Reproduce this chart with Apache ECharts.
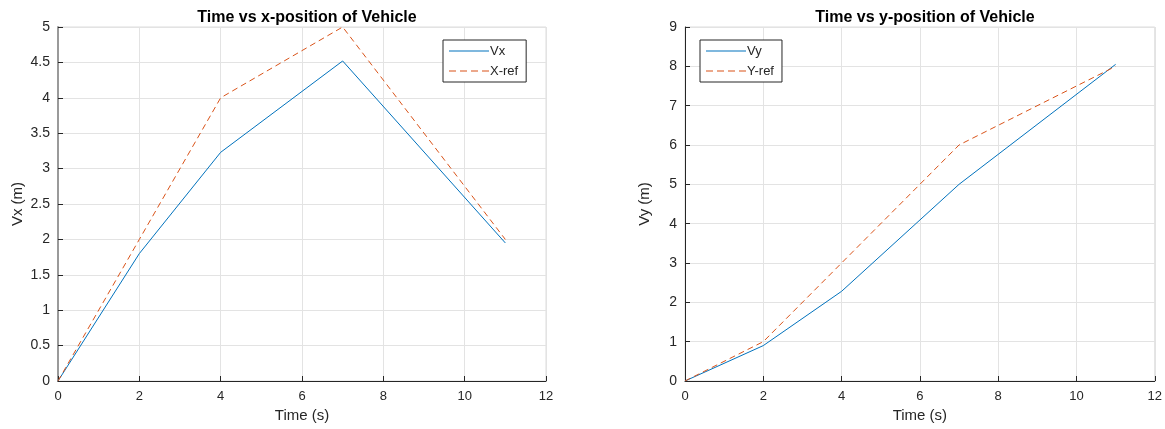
<!DOCTYPE html>
<html>
<head>
<meta charset="utf-8">
<script src="https://cdn.jsdelivr.net/npm/echarts@6/dist/echarts.min.js"></script>
<style>
html,body{margin:0;padding:0;background:#fff;}
#c{width:1165px;height:429px;}
</style>
</head>
<body>
<div id="c"></div>
<script>
const time = [0, 2, 4, 7, 11];
const vx = [0, 1.8, 3.23, 4.52, 1.95];
const xRef = [0, 2, 4, 5, 2];
const vy = [0, 0.9, 2.28, 5.0, 8.05];
const yRef = [0, 1, 3, 6, 8];

const pair = (t, v) => t.map((x, i) => [x, v[i]]);
const FONT = '"Liberation Sans", Arial, sans-serif';
const BLUE = '#0072BD', ORANGE = '#D95319';
const SOLID_ICON = 'path://M0,0H40V1H0Z';
const DASH_ICON = 'path://M0,0H7V1H0Z M11,0H18V1H11Z M22,0H29V1H22Z M33,0H40V1H33Z';

function xAxisCfg(gi) {
  return {
    gridIndex: gi, type: 'value', min: 0, max: 12, interval: 2,
    name: 'Time (s)', nameLocation: 'middle', nameGap: 27,
    nameTextStyle: {color: '#262626', fontSize: 15, fontFamily: FONT},
    axisLine: {show: true, onZero: false, lineStyle: {color: '#262626', width: 1}},
    axisTick: {show: true, inside: true, length: 5, lineStyle: {color: '#262626'}},
    axisLabel: {color: '#262626', fontSize: 13, fontFamily: FONT, margin: 9},
    splitLine: {show: true, lineStyle: {color: '#e3e3e3', width: 1}}
  };
}
function yAxisCfg(gi, max, interval, name, lineColor, lineWidth) {
  return {
    gridIndex: gi, type: 'value', min: 0, max: max, interval: interval,
    name: name, nameLocation: 'middle', nameGap: 33, nameRotate: 90,
    nameTextStyle: {color: '#262626', fontSize: 15, fontFamily: FONT},
    axisLine: {show: true, onZero: false, lineStyle: {color: lineColor, width: lineWidth}},
    axisTick: {show: true, inside: true, length: 5, lineStyle: {color: '#262626'}},
    axisLabel: {color: '#262626', fontSize: 14, fontFamily: FONT, margin: 8},
    splitLine: {show: true, lineStyle: {color: '#e3e3e3', width: 1}}
  };
}
function legendCfg(names, left) {
  return {
    data: [{name: names[0], icon: SOLID_ICON}, {name: names[1], icon: DASH_ICON}],
    orient: 'vertical', left: left, top: 40,
    backgroundColor: '#fff', borderColor: '#262626', borderWidth: 1,
    padding: [3, 8, 3, 6], itemGap: 4, itemWidth: 40, itemHeight: 1.2,
    textStyle: {color: '#262626', fontSize: 13, fontFamily: FONT, lineHeight: 16, padding: [0, 0, 0, -4]}
  };
}
function lineSeries(name, data, xi, color, dashed) {
  return {
    name: name, type: 'line', xAxisIndex: xi, yAxisIndex: xi, data: data,
    showSymbol: false, symbol: 'none', animation: false,
    lineStyle: {color: color, width: 1, type: dashed ? [6, 4] : 'solid'},
    itemStyle: {color: color}
  };
}

const chart = echarts.init(document.getElementById('c'), null, {renderer: 'canvas'});
chart.setOption({
  backgroundColor: '#fff',
  animation: false,
  title: [
    {text: 'Time vs x-position of Vehicle', left: 302, top: 5, textAlign: 'center',
     textStyle: {fontSize: 16, fontWeight: 'bold', color: '#000', fontFamily: FONT}},
    {text: 'Time vs y-position of Vehicle', left: 920, top: 5, textAlign: 'center',
     textStyle: {fontSize: 16, fontWeight: 'bold', color: '#000', fontFamily: FONT}}
  ],
  legend: [legendCfg(['Vx', 'X-ref'], 443), legendCfg(['Vy', 'Y-ref'], 700)],
  grid: [
    {left: 58, top: 27, width: 488, height: 354, show: true, borderColor: '#dcdcdc', borderWidth: 1},
    {left: 685, top: 27, width: 471, height: 354, show: true, borderColor: '#dcdcdc', borderWidth: 1}
  ],
  xAxis: [xAxisCfg(0), xAxisCfg(1)],
  yAxis: [
    yAxisCfg(0, 5, 0.5, 'Vx (m)', '#9a9a9a', 2),
    yAxisCfg(1, 9, 1, 'Vy (m)', '#262626', 1)
  ],
  series: [
    lineSeries('Vx', pair(time, vx), 0, BLUE, false),
    lineSeries('X-ref', pair(time, xRef), 0, ORANGE, true),
    lineSeries('Vy', pair(time, vy), 1, BLUE, false),
    lineSeries('Y-ref', pair(time, yRef), 1, ORANGE, true)
  ]
});
</script>
</body>
</html>
